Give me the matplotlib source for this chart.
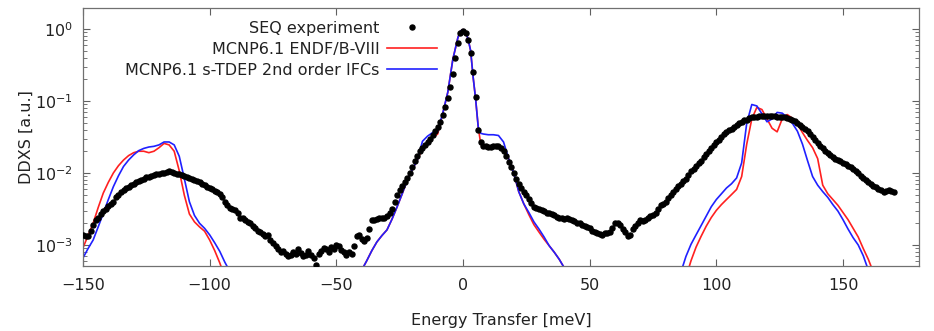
import numpy as np
import matplotlib
matplotlib.use("Agg")
import matplotlib.pyplot as plt
from matplotlib.ticker import LogLocator, NullFormatter

# ---------------- data ----------------
exp_energy = np.arange(-150, 171, 1)
exp_ddxs = [
    1.38e-3, 1.32e-3, 1.35e-3, 1.58e-3, 1.91e-3, 2.19e-3, 2.40e-3, 2.69e-3, 2.95e-3, 3.16e-3,  # -150..-141
    3.47e-3, 3.72e-3, 3.98e-3, 4.57e-3, 5.01e-3, 5.37e-3, 5.75e-3, 6.17e-3, 6.46e-3, 6.76e-3,  # -140..-131
    7.08e-3, 7.41e-3, 7.76e-3, 7.94e-3, 8.32e-3, 8.71e-3, 8.91e-3, 9.12e-3, 9.33e-3, 9.55e-3,  # -130..-121
    9.77e-3, 1.00e-2, 1.00e-2, 1.02e-2, 1.05e-2, 1.02e-2, 1.00e-2, 9.77e-3, 9.55e-3, 9.33e-3,  # -120..-111
    9.12e-3, 8.91e-3, 8.51e-3, 8.32e-3, 7.94e-3, 7.76e-3, 7.41e-3, 7.08e-3, 6.76e-3, 6.46e-3,  # -110..-101
    6.17e-3, 5.89e-3, 5.62e-3, 5.37e-3, 5.13e-3, 4.57e-3, 3.98e-3, 3.55e-3, 3.24e-3, 3.16e-3,  # -100..-91
    3.09e-3, 2.75e-3, 2.40e-3, 2.34e-3, 2.19e-3, 2.09e-3, 2.00e-3, 1.86e-3, 1.74e-3, 1.58e-3,  # -90..-81
    1.51e-3, 1.41e-3, 1.32e-3, 1.38e-3, 1.17e-3, 1.07e-3, 9.55e-4, 8.71e-4, 7.94e-4, 8.32e-4,  # -80..-71
    7.59e-4, 6.92e-4, 7.24e-4, 7.94e-4, 7.59e-4, 8.71e-4, 7.76e-4, 6.92e-4, 7.24e-4, 8.32e-4,  # -70..-61
    7.24e-4, 6.61e-4, 5.25e-4, 7.59e-4, 8.32e-4, 9.12e-4, 8.91e-4, 7.94e-4, 9.33e-4, 8.71e-4,  # -60..-51
    1.00e-3, 9.55e-4, 8.51e-4, 7.94e-4, 7.24e-4, 7.94e-4, 7.59e-4, 9.55e-4, 1.32e-3, 1.38e-3,  # -50..-41
    1.20e-3, 1.12e-3, 1.26e-3, 1.66e-3, 2.24e-3, 2.19e-3, 2.29e-3, 2.34e-3, 2.40e-3, 2.34e-3,  # -40..-31
    2.51e-3, 2.75e-3, 3.16e-3, 3.98e-3, 5.01e-3, 5.75e-3, 6.61e-3, 7.59e-3, 8.51e-3, 1.00e-2,  # -30..-21
    1.20e-2, 1.45e-2, 1.74e-2, 2.00e-2, 2.24e-2, 2.45e-2, 2.69e-2, 2.95e-2, 3.39e-2, 3.80e-2,  # -20..-11
    4.37e-2, 5.13e-2, 6.31e-2, 8.13e-2, 0.110, 0.158, 0.240, 0.398, 0.631, 0.871,              # -10..-1
    0.933,                                                                                      # 0
    0.871, 0.692, 0.468, 0.251, 0.112, 3.98e-2, 2.69e-2, 2.40e-2, 2.34e-2, 2.29e-2,            # 1..10
    2.29e-2, 2.34e-2, 2.40e-2, 2.40e-2, 2.24e-2, 2.00e-2, 1.70e-2, 1.41e-2, 1.20e-2, 1.00e-2,  # 11..20
    8.32e-3, 7.08e-3, 6.17e-3, 5.50e-3, 4.90e-3, 4.37e-3, 3.80e-3, 3.39e-3, 3.24e-3, 3.16e-3,  # 21..30
    3.02e-3, 2.95e-3, 2.82e-3, 2.75e-3, 2.69e-3, 2.63e-3, 2.45e-3, 2.34e-3, 2.40e-3, 2.29e-3,  # 31..40
    2.34e-3, 2.29e-3, 2.19e-3, 2.14e-3, 2.04e-3, 2.00e-3, 1.91e-3, 1.86e-3, 1.78e-3, 1.70e-3,  # 41..50
    1.58e-3, 1.51e-3, 1.45e-3, 1.41e-3, 1.38e-3, 1.45e-3, 1.48e-3, 1.51e-3, 1.74e-3, 2.00e-3,  # 51..60
    2.04e-3, 1.91e-3, 1.66e-3, 1.51e-3, 1.32e-3, 1.38e-3, 1.66e-3, 1.82e-3, 2.00e-3, 2.19e-3,  # 61..70
    2.14e-3, 2.24e-3, 2.40e-3, 2.51e-3, 2.63e-3, 2.82e-3, 3.16e-3, 3.55e-3, 3.72e-3, 3.98e-3,  # 71..80
    4.47e-3, 5.01e-3, 5.50e-3, 6.03e-3, 6.61e-3, 7.08e-3, 7.76e-3, 8.32e-3, 9.33e-3, 1.05e-2,  # 81..90
    1.15e-2, 1.26e-2, 1.38e-2, 1.48e-2, 1.66e-2, 1.82e-2, 2.00e-2, 2.19e-2, 2.45e-2, 2.69e-2,  # 91..100
    2.88e-2, 3.16e-2, 3.47e-2, 3.72e-2, 3.89e-2, 4.07e-2, 4.37e-2, 4.57e-2, 4.90e-2, 5.13e-2,  # 101..110
    5.37e-2, 5.50e-2, 5.75e-2, 5.89e-2, 6.03e-2, 6.03e-2, 6.17e-2, 6.17e-2, 6.17e-2, 6.17e-2,  # 111..120
    6.17e-2, 6.17e-2, 6.17e-2, 6.03e-2, 6.03e-2, 6.03e-2, 5.89e-2, 5.75e-2, 5.62e-2, 5.50e-2,  # 121..130
    5.25e-2, 4.90e-2, 4.68e-2, 4.37e-2, 4.07e-2, 3.80e-2, 3.47e-2, 3.16e-2, 2.88e-2, 2.63e-2,  # 131..140
    2.40e-2, 2.24e-2, 2.04e-2, 1.91e-2, 1.78e-2, 1.66e-2, 1.58e-2, 1.51e-2, 1.45e-2, 1.38e-2,  # 141..150
    1.32e-2, 1.26e-2, 1.20e-2, 1.12e-2, 1.05e-2, 1.00e-2, 9.12e-3, 8.51e-3, 7.94e-3, 7.41e-3,  # 151..160
    6.92e-3, 6.61e-3, 6.31e-3, 6.03e-3, 5.75e-3, 5.50e-3, 5.62e-3, 5.75e-3, 5.62e-3, 5.37e-3,  # 161..170
]

endf_energy = [
    -150, -148, -146, -144, -142, -140, -138, -136, -134, -132, -130, -128, -126, -124, -122,
    -120, -118, -116, -114, -112, -110, -108, -106, -104, -102, -100, -98, -96, -94, -90,
    -44, -40, -38, -36, -34, -32, -30, -28, -26, -24, -22, -20, -18, -16, -14, -12, -10, -8,
    -6, -4, -2, -1, 0, 1, 2, 3, 4, 5, 6, 7, 8, 10, 12, 14, 16, 18, 20, 22, 24, 26, 28, 30,
    32, 34, 36, 38, 40, 44,
    86, 88, 90, 92, 94, 96, 98, 100, 102, 104, 106, 108, 110, 112, 114, 116, 118, 120, 122,
    124, 126, 128, 130, 132, 134, 136, 138, 140, 142, 144, 146, 148, 150, 152, 154, 156, 158,
    160, 162, 164, 170,
]
endf_ddxs = [
    9.12e-4, 1.35e-3, 2.00e-3, 3.31e-3, 5.25e-3, 7.41e-3, 1.00e-2, 1.26e-2, 1.51e-2, 1.74e-2,
    1.91e-2, 2.00e-2, 2.00e-2, 1.91e-2, 2.00e-2, 2.24e-2, 2.57e-2, 2.45e-2, 2.00e-2, 1.07e-2,
    4.90e-3, 2.69e-3, 2.09e-3, 1.78e-3, 1.55e-3, 1.17e-3, 8.32e-4, 5.62e-4, 3.55e-4, 1.6e-4,
    1.6e-4, 4.47e-4, 6.03e-4, 8.32e-4, 1.10e-3, 1.35e-3, 1.62e-3, 2.29e-3, 3.39e-3, 5.13e-3,
    7.94e-3, 1.12e-2, 1.51e-2, 2.19e-2, 2.63e-2, 3.09e-2, 3.47e-2, 6.61e-2,
    0.132, 0.380, 0.759, 0.933, 0.977, 0.912, 0.724, 0.501, 0.214, 0.105, 4.37e-2, 2.51e-2,
    2.29e-2, 2.19e-2, 2.29e-2, 2.34e-2, 2.09e-2, 1.58e-2, 1.00e-2, 5.50e-3, 3.72e-3, 2.63e-3,
    1.91e-3, 1.51e-3, 1.20e-3, 9.77e-4, 7.94e-4, 6.31e-4, 4.79e-4, 1.6e-4,
    1.6e-4, 3.55e-4, 6.03e-4, 9.33e-4, 1.32e-3, 1.82e-3, 2.40e-3, 3.02e-3, 3.63e-3, 4.27e-3,
    5.01e-3, 5.89e-3, 8.91e-3, 2.51e-2, 5.62e-2, 8.13e-2, 7.59e-2, 5.62e-2, 4.17e-2, 3.72e-2,
    5.62e-2, 6.46e-2, 5.75e-2, 4.79e-2, 3.63e-2, 2.82e-2, 2.24e-2, 1.58e-2, 6.76e-3, 5.13e-3,
    4.27e-3, 3.55e-3, 2.82e-3, 2.24e-3, 1.70e-3, 1.29e-3, 8.91e-4, 6.31e-4, 4.17e-4, 2.51e-4,
    1.0e-4,
]

tdep_energy = [
    -150, -148, -146, -144, -142, -140, -138, -136, -134, -132, -130, -128, -126, -124, -122,
    -120, -118, -116, -114, -112, -110, -108, -106, -104, -102, -100, -98, -96, -94, -92, -90,
    -44, -40, -38, -36, -34, -32, -30, -28, -26, -24, -22, -20, -18, -16, -14, -12, -10, -8,
    -6, -4, -2, -1, 0, 1, 2, 3, 4, 5, 6, 7, 8, 10, 12, 14, 16, 18, 20, 22, 24, 26, 28, 30,
    32, 34, 36, 38, 40, 44,
    84, 86, 88, 90, 92, 94, 96, 98, 100, 102, 104, 106, 108, 110, 112, 114, 116, 118, 120, 122,
    124, 126, 128, 130, 132, 134, 136, 138, 140, 142, 144, 146, 148, 150, 152, 154, 156, 158,
    160, 162, 170,
]
tdep_ddxs = [
    6.61e-4, 8.91e-4, 1.17e-3, 1.78e-3, 2.75e-3, 4.27e-3, 6.46e-3, 9.12e-3, 1.23e-2, 1.51e-2,
    1.78e-2, 2.04e-2, 2.19e-2, 2.29e-2, 2.34e-2, 2.45e-2, 2.69e-2, 2.69e-2, 2.45e-2, 1.70e-2,
    8.32e-3, 3.98e-3, 2.57e-3, 2.00e-3, 1.70e-3, 1.38e-3, 1.07e-3, 8.13e-4, 5.75e-4, 4.27e-4,
    2.51e-4,
    1.6e-4, 4.47e-4, 6.03e-4, 8.32e-4, 1.10e-3, 1.35e-3, 1.62e-3, 2.29e-3, 3.39e-3, 5.13e-3,
    7.94e-3, 1.12e-2, 1.51e-2, 2.75e-2, 3.24e-2, 3.63e-2, 3.80e-2, 6.76e-2,
    0.132, 0.380, 0.759, 0.933, 0.977, 0.912, 0.724, 0.501, 0.214, 0.105, 4.37e-2, 3.55e-2,
    3.47e-2, 3.39e-2, 3.39e-2, 3.31e-2, 2.69e-2, 1.58e-2, 1.00e-2, 5.50e-3, 3.72e-3, 2.82e-3,
    2.09e-3, 1.66e-3, 1.29e-3, 9.77e-4, 7.94e-4, 6.31e-4, 4.79e-4, 1.6e-4,
    2.51e-4, 4.17e-4, 6.92e-4, 1.02e-3, 1.38e-3, 1.86e-3, 2.51e-3, 3.39e-3, 4.27e-3, 5.13e-3,
    6.17e-3, 7.08e-3, 8.51e-3, 1.38e-2, 4.90e-2, 8.91e-2, 8.51e-2, 6.61e-2, 5.13e-2, 5.62e-2,
    6.92e-2, 6.76e-2, 5.89e-2, 4.90e-2, 3.80e-2, 2.51e-2, 1.48e-2, 8.91e-3, 6.76e-3, 5.50e-3,
    4.57e-3, 3.63e-3, 2.95e-3, 2.24e-3, 1.66e-3, 1.26e-3, 1.00e-3, 7.08e-4, 4.47e-4, 2.51e-4,
    1.0e-4,
]

labels = ["SEQ experiment", "MCNP6.1 ENDF/B-VIII", "MCNP6.1 s-TDEP 2nd order IFCs"]
x_ticks = [-150, -100, -50, 0, 50, 100, 150]

# ---------------- plot ----------------
plt.rcParams['font.family'] = ['DejaVu Sans']
fig = plt.figure(figsize=(9.34, 3.31), dpi=100)
ax = fig.add_axes([83/934, 65/331, 836/934, 258/331])

ax.plot(exp_energy, exp_ddxs, linestyle='none', marker='o', markersize=3.6,
        color='black', label=labels[0], zorder=3)
ax.plot(endf_energy, endf_ddxs, color='#ff2020', lw=1.2, label=labels[1], zorder=2)
ax.plot(tdep_energy, tdep_ddxs, color='#2020ff', lw=1.2, label=labels[2], zorder=2)

ax.set_yscale('log')
ax.set_xlim(-150, 180)
ax.set_ylim(5.1e-4, 1.95)
ax.set_xticks(x_ticks)
ax.yaxis.set_major_locator(LogLocator(base=10, numticks=10))
ax.yaxis.set_minor_locator(LogLocator(base=10, subs=np.arange(2, 10), numticks=10))
ax.yaxis.set_minor_formatter(NullFormatter())

ax.tick_params(which='both', direction='in', top=True, right=True, color='#606060',
               labelsize=11.5, labelcolor='#222222')
ax.tick_params(axis='x', pad=9)
ax.tick_params(axis='y', pad=7)
ax.tick_params(which='major', length=5, width=0.8)
ax.tick_params(which='minor', length=3, width=0.6)
for s in ax.spines.values():
    s.set_color('#707070')
    s.set_linewidth(0.9)

ax.set_xlabel("Energy Transfer [meV]", fontsize=11.5, color='#222222', labelpad=14)
ax.set_ylabel("DDXS [a.u.]", fontsize=11.5, color='#222222', labelpad=1)

leg = ax.legend(loc='upper right', bbox_to_anchor=(437/934, 1 - 21/331),
                bbox_transform=fig.transFigure, frameon=False, markerfirst=False,
                fontsize=11.5, handlelength=3.1, handletextpad=0.5, labelspacing=0.37,
                borderpad=0, borderaxespad=0)
for t in leg.get_texts():
    t.set_ha('right')
    t.set_color('#222222')

fig.savefig("out.png", dpi=100)
